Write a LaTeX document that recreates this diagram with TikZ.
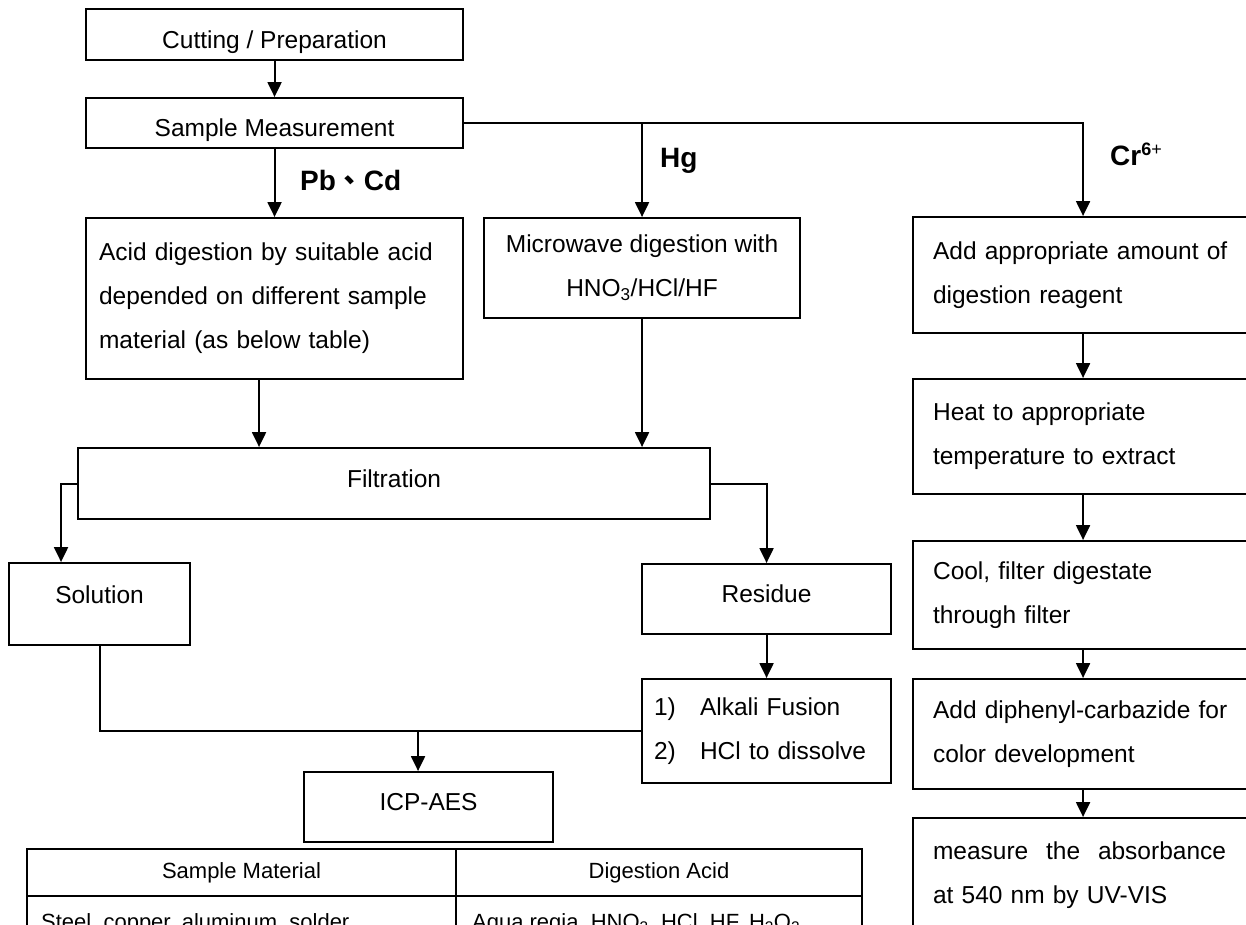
\documentclass[tikz,border=0pt]{standalone}
\usepackage{fontspec}
\setmainfont{Liberation Sans}
\newfontfamily\cjkfont{Noto Sans CJK TC}
\usetikzlibrary{arrows.meta,calc}
\newcommand\basetxt[2]{\smash{\raisebox{#1}{#2}}}
\begin{document}
\begin{tikzpicture}[x=1pt,y=-1pt,
  box/.style={draw=black,line width=2.1pt,inner sep=0pt,anchor=north west,
    font=\fontsize{24.5}{44}\selectfont,align=center},
  lbox/.style={box,align=left,text width=#1},
  arr/.style={line width=2.1pt,-{Triangle[length=15pt,width=14pt]}},
  ln/.style={line width=2.1pt},
  lab/.style={font=\fontsize{28}{28}\selectfont\bfseries,anchor=base west,inner sep=0pt},
  tbl/.style={line width=2.6pt},
  tcell/.style={font=\fontsize{22}{26}\selectfont,inner sep=0pt},
]
\useasboundingbox (0,0) rectangle (1246,924);
\fill[white] (0,0) rectangle (1246,924);
\clip (0,0) rectangle (1246,924);

% main column
\node[box,minimum width=377pt,minimum height=51pt] (cut) at (85,8) {\basetxt{-13.5pt}{Cutting / Preparation}};
\node[box,minimum width=377pt,minimum height=50pt] (meas) at (85,97) {\basetxt{-13pt}{Sample Measurement}};
\node[lbox=351pt,inner xsep=13pt,minimum height=161pt] (acid) at (85,217)
  {Acid digestion by suitable acid\\depended on different sample\\material (as below table)};
\node[box,minimum width=316pt,minimum height=100pt] (micro) at (483,217)
  {Microwave digestion with\\HNO\textsubscript{3}/HCl/HF};
\node[box,minimum width=632pt,minimum height=71pt] (filt) at (77,447) {\basetxt{-3.5pt}{Filtration}};
\node[box,minimum width=181pt,minimum height=82pt] (sol) at (8,562) {\basetxt{1pt}{Solution}};
\node[box,minimum width=249pt,minimum height=70pt] (res) at (641,563) {\basetxt{-3pt}{Residue}};
\node[lbox=225pt,inner xsep=12pt,minimum height=104pt] (alk) at (641,678)
  {\makebox[46pt][l]{1)}Alkali Fusion\\\makebox[46pt][l]{2)}HCl to dissolve};
\node[box,minimum width=249pt,minimum height=70pt] (icp) at (303,771) {\basetxt{-3.3pt}{ICP-AES}};

% Cr column
\node[lbox=300pt,inner xsep=20pt,minimum height=116pt] (cr1) at (912,216)
  {Add appropriate amount of\\digestion reagent};
\node[lbox=300pt,inner xsep=20pt,minimum height=115pt] (cr2) at (912,378)
  {Heat to appropriate\\temperature to extract};
\node[lbox=300pt,inner xsep=20pt,minimum height=108pt] (cr3) at (912,540)
  {Cool, filter digestate\\through filter};
\node[lbox=300pt,inner xsep=20pt,minimum height=110pt] (cr4) at (912,678)
  {Add diphenyl-carbazide for\\color development};
\node[lbox=300pt,inner xsep=20pt,minimum height=115pt] (cr5) at (912,817)
  {\makebox[293pt][l]{measure\hfill the\hfill absorbance}\\at 540 nm by UV-VIS};

% labels
\node[lab] (pbcd) at (300,190) {Pb{\cjkfont 、}Cd};
\node[lab] (hg) at (660,167) {Hg};
\node[lab] (cr) at (1110,165) {Cr\raisebox{10pt}{\fontsize{18}{18}\selectfont 6\mdseries+}};

% connectors
\draw[arr] (cut.south) -- (meas.north);
\draw[arr] (meas.south) -- (acid.north);
\draw[arr] (meas.east) -| (cr1.north);
\draw[arr] (meas.east -| micro.north) -- (micro.north);
\coordinate (acidout) at ([xshift=-15.5pt]acid.south);
\draw[arr] (acidout) -- (acidout |- filt.north);
\draw[arr] (micro.south) -- (micro.south |- filt.north);
\coordinate (solin) at ([xshift=-38.5pt]sol.north);
\draw[arr] (filt.west) -| (solin);
\draw[arr] (filt.east) -| (res.north);
\draw[arr] (res.south) -- (alk.north);
\draw[ln] (sol.south) |- (alk.west);
\coordinate (icpin) at ([xshift=-10.5pt]icp.north);
\draw[arr] (icpin |- alk.west) -- (icpin);
\draw[arr] (cr1.south) -- (cr2.north);
\draw[arr] (cr2.south) -- (cr3.north);
\draw[arr] (cr3.south) -- (cr4.north);
\draw[arr] (cr4.south) -- (cr5.north);

% table
\draw[tbl] (27,950) -- (27,849) -- (862,849) -- (862,950);
\draw[tbl] (456,849) -- (456,950);
\draw[tbl] (27,896) -- (862,896);
\node[tcell] (th1) at (241.5,873) {Sample Material};
\node[tcell] (th2) at (659,873) {Digestion Acid};
\node[tcell,anchor=base west] (td1) at (41,929) {Steel, copper, aluminum, solder};
\node[tcell,anchor=base west] (td2) at (472,929)
  {Aqua regia, HNO\textsubscript{3}, HCl, HF, H\textsubscript{2}O\textsubscript{2}};
\end{tikzpicture}
\end{document}
